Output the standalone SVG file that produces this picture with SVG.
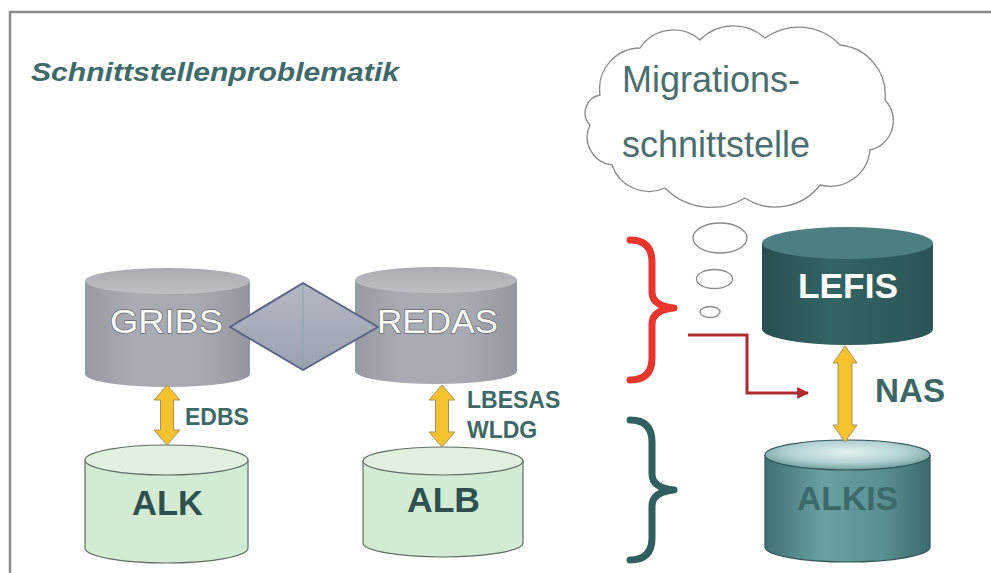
<svg xmlns="http://www.w3.org/2000/svg" width="991" height="573" viewBox="0 0 991 573">
<defs>
<style>
.t{font-family:"Liberation Sans",Arial,sans-serif}
.b{font-weight:bold}
.teal{fill:#3d6868}
.gtxt{fill:#ffffff;stroke:#66696e;stroke-width:1.4;paint-order:stroke;font-size:34px}
.grntxt{fill:#2f5050;font-size:35px;font-weight:bold}
.dbl{fill:#f5c22f;stroke:#a89060;stroke-width:1}
.bubble{fill:#ffffff;stroke:#8a8a8a;stroke-width:1.3}
.brace{fill:none;stroke-width:7;stroke-linecap:round;stroke-linejoin:round}
</style>
<linearGradient id="grayBody" x1="0" y1="0" x2="1" y2="0">
<stop offset="0" stop-color="#979aa0"/><stop offset="0.3" stop-color="#a9acb2"/><stop offset="0.7" stop-color="#a6a9af"/><stop offset="1" stop-color="#94979d"/>
</linearGradient>
<linearGradient id="grayTop" x1="0" y1="0" x2="0" y2="1">
<stop offset="0" stop-color="#a9acb1"/><stop offset="1" stop-color="#bcbfc3"/>
</linearGradient>
<linearGradient id="tealBody" x1="0" y1="0" x2="1" y2="0">
<stop offset="0" stop-color="#284f50"/><stop offset="0.4" stop-color="#336464"/><stop offset="1" stop-color="#2a5556"/>
</linearGradient>
<linearGradient id="alkisBody" x1="0" y1="0" x2="1" y2="0">
<stop offset="0" stop-color="#3f7172"/><stop offset="0.35" stop-color="#6aa0a0"/><stop offset="0.7" stop-color="#5b9192"/><stop offset="1" stop-color="#3b6b6c"/>
</linearGradient>
<radialGradient id="alkisTop" cx="0.5" cy="0.4" r="0.6">
<stop offset="0" stop-color="#e4f1f1"/><stop offset="0.6" stop-color="#b2d2d2"/><stop offset="1" stop-color="#6f9e9e"/>
</radialGradient>
<linearGradient id="diaFill" x1="0" y1="0" x2="0" y2="1">
<stop offset="0" stop-color="#b4b8c4"/><stop offset="1" stop-color="#9ca1b0"/>
</linearGradient>
<marker id="redHead" viewBox="0 0 10 10" refX="9" refY="5" markerWidth="4" markerHeight="4" orient="auto" markerUnits="strokeWidth">
<path d="M0 0 L10 5 L0 10 Z" fill="#b02a2e"/>
</marker>
</defs>

<rect x="0" y="0" width="991" height="573" fill="#ffffff"/>

<g id="frame">
<path d="M10 573 V12 H991" fill="none" stroke="#8c8c8c" stroke-width="2.5"/>
</g>

<g id="title">
<text class="t b teal" x="31" y="81" font-size="25" font-style="italic" textLength="368" lengthAdjust="spacingAndGlyphs" style="fill:#3e6a6b">Schnittstellenproblematik</text>
</g>

<g id="cloud">
<path class="bubble" d="M600 95 A41 41 0 0 1 640 48 A40 40 0 0 1 700 40 A47 47 0 0 1 765 38 A57 57 0 0 1 840 45 A50 50 0 0 1 885 100 A30 30 0 0 1 870 150 A40 40 0 0 1 820 185 A56 56 0 0 1 745 198 A65 65 0 0 1 665 188 A39 39 0 0 1 612 165 A28 28 0 0 1 590 125 A18 18 0 0 1 600 95 Z"/>
<text class="t" x="622" y="92" font-size="36" fill="#4a6e6e">Migrations-</text>
<text class="t" x="622" y="157" font-size="36" fill="#4a6e6e">schnittstelle</text>
</g>

<g id="thought-bubbles">
<ellipse class="bubble" cx="720" cy="238" rx="27" ry="15"/>
<ellipse class="bubble" cx="714.5" cy="279" rx="18" ry="9.5"/>
<ellipse class="bubble" cx="710" cy="312" rx="10" ry="5.5"/>
</g>

<g id="gribs">
<path d="M85 281 V374 A82.5 13 0 0 0 250 374 V281 Z" fill="url(#grayBody)"/>
<ellipse cx="167.5" cy="281" rx="82.5" ry="13" fill="url(#grayTop)"/>
<text class="t gtxt" x="166.5" y="333" text-anchor="middle" textLength="113" lengthAdjust="spacingAndGlyphs">GRIBS</text>
</g>

<g id="redas">
<path d="M355 280 V371 A81 13 0 0 0 517 371 V280 Z" fill="url(#grayBody)"/>
<ellipse cx="436" cy="280" rx="81" ry="13" fill="url(#grayTop)"/>
</g>

<g id="link">
<polygon points="230,327 303,283 378,327 303,370" fill="url(#diaFill)" stroke="#5a6382" stroke-width="2" stroke-linejoin="round"/>
<line x1="303" y1="285" x2="303" y2="368" stroke="#7d9696" stroke-width="1" opacity="0.5"/>
</g>

<g id="redas-label">
<text class="t gtxt" x="437.5" y="333" text-anchor="middle" textLength="121" lengthAdjust="spacingAndGlyphs">REDAS</text>
</g>

<g id="alk">
<path d="M85 460 V548 A81.5 15 0 0 0 248 548 V460" fill="#d3ebd3" stroke="#5f6e62" stroke-width="1.2"/>
<ellipse cx="166.5" cy="460" rx="81.5" ry="15" fill="#e0f1e0" stroke="#5f6e62" stroke-width="1.2"/>
<text class="t grntxt" x="167.5" y="515" text-anchor="middle" textLength="71" lengthAdjust="spacingAndGlyphs">ALK</text>
</g>

<g id="alb">
<path d="M363 461 V543 A80 14 0 0 0 523 543 V461" fill="#d3ebd3" stroke="#5f6e62" stroke-width="1.2"/>
<ellipse cx="443" cy="461" rx="80" ry="14" fill="#e0f1e0" stroke="#5f6e62" stroke-width="1.2"/>
<text class="t grntxt" x="443.5" y="512" text-anchor="middle" textLength="73" lengthAdjust="spacingAndGlyphs">ALB</text>
</g>

<g id="lefis">
<path d="M762 243 V329 A85.5 16 0 0 0 933 329 V243 Z" fill="url(#tealBody)"/>
<ellipse cx="847.5" cy="243" rx="85.5" ry="16" fill="#4d7f80"/>
<text class="t b" x="848" y="298" font-size="35" fill="#ffffff" text-anchor="middle" textLength="100" lengthAdjust="spacingAndGlyphs">LEFIS</text>
</g>

<g id="alkis">
<path d="M765 455 V547 A82.5 15 0 0 0 930 547 V455" fill="url(#alkisBody)" stroke="#2f5656" stroke-width="1.2"/>
<ellipse cx="847.5" cy="455" rx="82.5" ry="15" fill="url(#alkisTop)" stroke="#2f5656" stroke-width="1.2"/>
<text class="t b" x="847.5" y="510" font-size="33" fill="#3a6a6a" text-anchor="middle" textLength="101" lengthAdjust="spacingAndGlyphs">ALKIS</text>
</g>

<g id="braces">
<path class="brace" stroke="#e8352e" d="M630 240 Q652 240 652 262 L652 292 Q652 306 674 308 Q652 310 652 324 L652 358 Q652 380 630 380"/>
<path class="brace" stroke="#2f5f5f" d="M630 420 Q652 420 652 442 L652 474 Q652 488 674 490 Q652 492 652 506 L652 538 Q652 560 630 560"/>
</g>

<g id="connectors">
<polygon class="dbl" points="167,385 180,400 173.5,400 173.5,430 180,430 167,445 154,430 160.5,430 160.5,400 154,400"/>
<polygon class="dbl" points="442,385 455,400 448.5,400 448.5,432 455,432 442,447 429,432 435.5,432 435.5,400 429,400"/>
<polygon class="dbl" points="845,346 857,363 852,363 852,425 857,425 845,442 833,425 838,425 838,363 833,363"/>
<path d="M688 335 H747 V393 H808" fill="none" stroke="#b02a2e" stroke-width="3" marker-end="url(#redHead)"/>
</g>

<g id="labels">
<text class="t b" x="185" y="425" font-size="23" fill="#3e6868">EDBS</text>
<text class="t b" x="467" y="408" font-size="23" fill="#3e6868">LBESAS</text>
<text class="t b" x="467" y="438" font-size="23" fill="#3e6868">WLDG</text>
<text class="t b" x="875" y="402" font-size="34" fill="#3a6666" textLength="70" lengthAdjust="spacingAndGlyphs">NAS</text>
</g>
</svg>
